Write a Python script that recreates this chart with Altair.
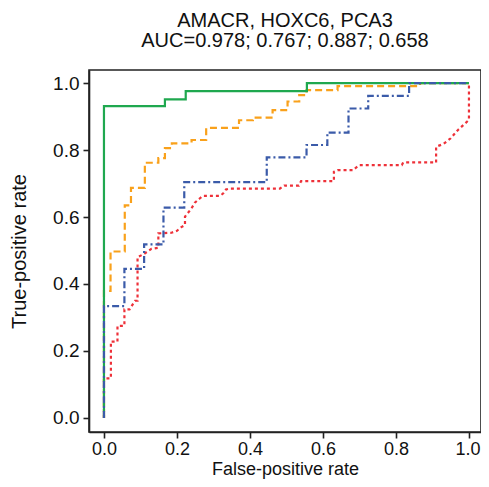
import altair as alt
import pandas as pd

# ---- data ----
green_fpr = [0, 0, 0.167, 0.167, 0.224, 0.224, 0.556, 0.556, 1.0]
green_tpr = [0, 0.931, 0.931, 0.951, 0.951, 0.976, 0.976, 1.0, 1.0]

orange_fpr = [0, 0, 0.018, 0.018, 0.057, 0.057, 0.074, 0.074, 0.112, 0.112, 0.149, 0.149,
              0.167, 0.167, 0.186, 0.186, 0.24, 0.24, 0.28, 0.28, 0.37, 0.37, 0.408, 0.408,
              0.462, 0.462, 0.503, 0.503, 0.535, 0.535, 0.555, 0.555, 0.64, 0.64, 0.866, 0.866, 1.0]
orange_tpr = [0, 0.379, 0.379, 0.497, 0.497, 0.635, 0.635, 0.687, 0.687, 0.762, 0.762, 0.776,
              0.776, 0.806, 0.806, 0.82, 0.82, 0.83, 0.83, 0.866, 0.866, 0.889, 0.889, 0.897,
              0.897, 0.919, 0.919, 0.945, 0.945, 0.964, 0.964, 0.979, 0.979, 0.991, 0.991, 1.0, 1.0]

blue_fpr = [0, 0, 0.056, 0.056, 0.11, 0.11, 0.163, 0.163, 0.22, 0.22, 0.446, 0.446,
            0.555, 0.555, 0.612, 0.612, 0.67, 0.67, 0.724, 0.724, 0.836, 0.836, 1.0]
blue_tpr = [0, 0.334, 0.334, 0.445, 0.445, 0.518, 0.518, 0.628, 0.628, 0.704, 0.704, 0.778,
            0.778, 0.815, 0.815, 0.852, 0.852, 0.924, 0.924, 0.962, 0.962, 1.0, 1.0]

red_fpr = [0, 0, 0.019, 0.019, 0.037, 0.037, 0.056, 0.056, 0.07, 0.085, 0.092, 0.092, 0.11,
           0.13, 0.149, 0.149, 0.185, 0.2, 0.211, 0.222, 0.222, 0.24, 0.249, 0.263, 0.271,
           0.318, 0.327, 0.334, 0.345, 0.482, 0.494, 0.534, 0.54, 0.63, 0.63, 0.64, 0.683,
           0.69, 0.7, 0.816, 0.82, 0.91, 0.91, 0.93, 0.95, 0.97, 0.99, 1.0, 1.0]
red_tpr = [0, 0.118, 0.118, 0.228, 0.228, 0.275, 0.275, 0.324, 0.324, 0.35, 0.35, 0.48, 0.49,
           0.505, 0.508, 0.551, 0.553, 0.559, 0.569, 0.576, 0.601, 0.626, 0.643, 0.656, 0.663,
           0.663, 0.671, 0.682, 0.685, 0.685, 0.694, 0.694, 0.707, 0.707, 0.735, 0.74, 0.74,
           0.747, 0.755, 0.755, 0.763, 0.763, 0.81, 0.818, 0.835, 0.86, 0.88, 0.89, 1.0]

title_lines = ["AMACR, HOXC6, PCA3", "AUC=0.978; 0.767; 0.887; 0.658"]
tick_values = [0.0, 0.2, 0.4, 0.6, 0.8, 1.0]

FONT = "Liberation Sans"

x_scale = alt.Scale(domain=[-0.041, 1.033], nice=False, zero=False)
y_scale = alt.Scale(domain=[-0.042, 1.039], nice=False, zero=False)

x_axis = alt.Axis(
    values=tick_values, format=".1f", title="False-positive rate",
    labelAlign={"expr": "datum.value == 1 ? 'right' : 'center'"},
    labelOffset={"expr": "datum.value == 1 ? 11 : 0"},
    labelFontSize=18, labelPadding=2,
    titleBaseline="alphabetic", titleY=42.5, titleFontSize=18,
)
y_axis = alt.Axis(values=tick_values, format=".1f", title="True-positive rate")


def curve(fpr, tpr, color, dash):
    df = pd.DataFrame({"fpr": fpr, "tpr": tpr, "i": list(range(len(fpr)))})
    props = dict(color=color, strokeWidth=2.2, clip=True)
    if dash:
        props["strokeDash"] = dash
    return alt.Chart(df).mark_line(**props).encode(
        x=alt.X("fpr:Q", scale=x_scale, axis=x_axis),
        y=alt.Y("tpr:Q", scale=y_scale, axis=y_axis),
        order="i:Q",
    )


chart = alt.layer(
    curve(red_fpr, red_tpr, "#ee3139", [3, 3]),
    curve(orange_fpr, orange_tpr, "#f9a11b", [7, 4]),
    curve(green_fpr, green_tpr, "#1fa84f", None),
    curve(blue_fpr, blue_tpr, "#3b5ba9", [7, 3, 2, 3]),
).properties(
    width=392,
    height=362,
    autosize=alt.AutoSizeParams(type="none"),
    padding={"left": 81, "top": 62, "right": 0, "bottom": 47},
    title=alt.TitleParams(
        text=title_lines, font=FONT, fontSize=20, fontWeight="normal",
        anchor="middle", color="#111", offset=19, lineHeight=20,
    ),
).configure_view(
    stroke="#222", strokeWidth=1.6
).configure_axis(
    grid=False,
    labelFont=FONT, labelFontSize=19, labelColor="#111",
    titleFont=FONT, titleFontSize=20, titleFontWeight="normal", titleColor="#111",
    domainColor="#222", domainWidth=1.6,
    tickColor="#222", tickWidth=1.6, tickSize=6,
    labelPadding=4,
).configure_axisY(
    titlePadding=23,
)

chart.save("out.html", embed_options={"renderer": "svg", "actions": False})
